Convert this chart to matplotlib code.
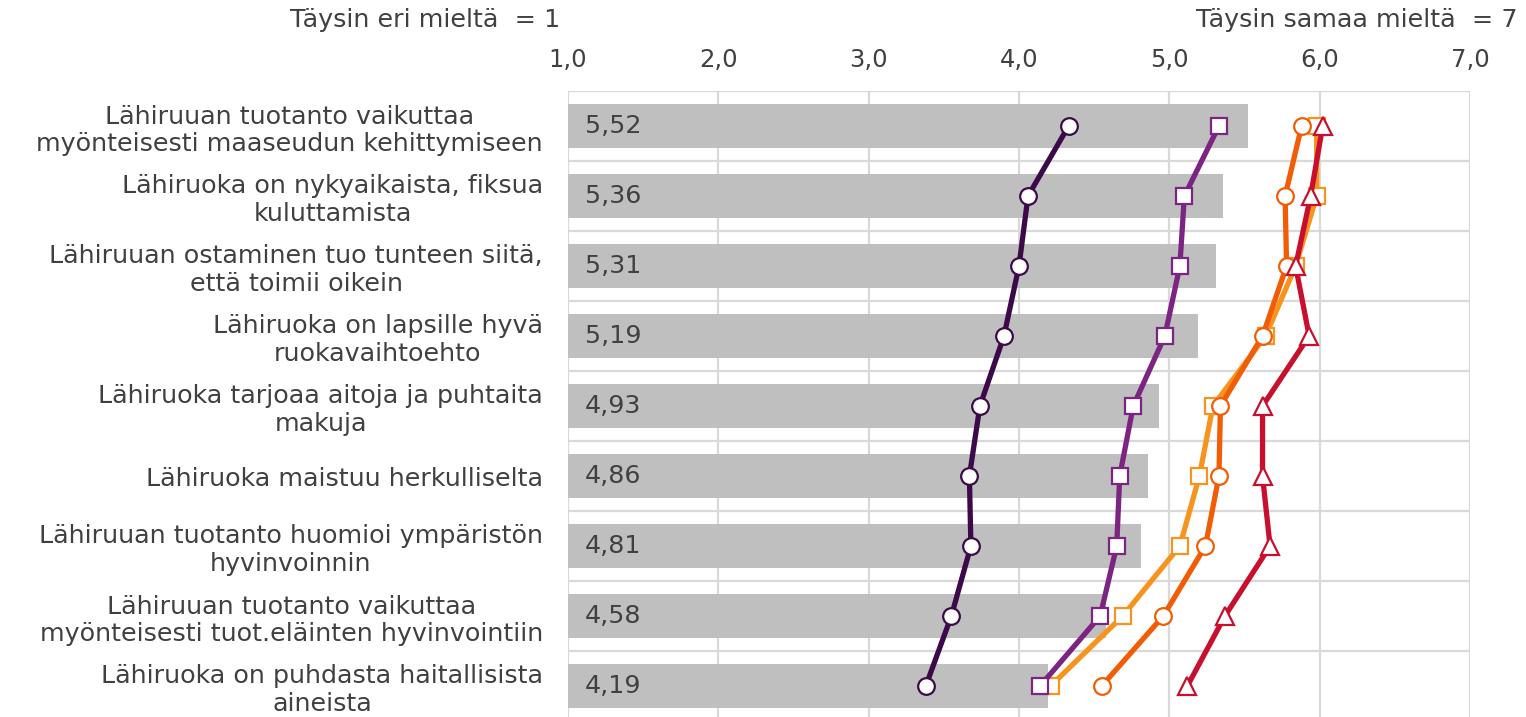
import matplotlib
matplotlib.use("Agg")
import matplotlib.pyplot as plt

# väittämät (ylhäältä alas)
VAITTAMAT = [
    "Lähiruuan tuotanto vaikuttaa\nmyönteisesti maaseudun kehittymiseen",
    "Lähiruoka on nykyaikaista, fiksua\nkuluttamista",
    "Lähiruuan ostaminen tuo tunteen siitä,\nettä toimii oikein",
    "Lähiruoka on lapsille hyvä\nruokavaihtoehto",
    "Lähiruoka tarjoaa aitoja ja puhtaita\nmakuja",
    "Lähiruoka maistuu herkulliselta",
    "Lähiruuan tuotanto huomioi ympäristön\nhyvinvoinnin",
    "Lähiruuan tuotanto vaikuttaa\nmyönteisesti tuot.eläinten hyvinvointiin",
    "Lähiruoka on puhdasta haitallisista\naineista",
]
KAIKKI = [5.52, 5.36, 5.31, 5.19, 4.93, 4.86, 4.81, 4.58, 4.19]

# ryhmäkohtaiset keskiarvot
RYHMA_1 = [4.33, 4.06, 4.00, 3.90, 3.74, 3.67, 3.68, 3.55, 3.38]
RYHMA_2 = [5.33, 5.10, 5.07, 4.97, 4.76, 4.67, 4.65, 4.54, 4.14]
RYHMA_3 = [5.98, 5.98, 5.84, 5.64, 5.29, 5.20, 5.07, 4.69, 4.21]
RYHMA_4 = [5.88, 5.77, 5.78, 5.62, 5.34, 5.33, 5.24, 4.96, 4.55]
RYHMA_5 = [6.02, 5.94, 5.84, 5.93, 5.62, 5.62, 5.67, 5.37, 5.12]

TEKSTI, HARMAA, RUUDUKKO = "#404040", "#BFBFBF", "#D9D9D9"
KOKO = 18.3

fig = plt.figure(figsize=(15.26, 7.17), dpi=100)
ax = fig.add_axes([568 / 1526, -4 / 717, 902 / 1526, 630 / 717])

y = list(range(len(VAITTAMAT)))
alku = 1.0
ax.barh(y, [v - alku for v in KAIKKI], left=alku, height=0.63, color=HARMAA, zorder=2)
for i, v in enumerate(KAIKKI):
    ax.text(1.11, i, f"{v:.2f}".replace(".", ","), va="center", ha="left",
            fontsize=KOKO, color=TEKSTI, zorder=3)

sarjat = [
    (RYHMA_3, "#F7941D", "s"),
    (RYHMA_4, "#F25C05", "o"),
    (RYHMA_5, "#C8102E", "^"),
    (RYHMA_2, "#7B2482", "s"),
    (RYHMA_1, "#3C0A49", "o"),
]
for arvot, vari, merkki in sarjat:
    ax.plot(arvot, y, color=vari, lw=3.8, marker=merkki, ms=12 if merkki != "^" else 13,
            mfc="white", mec=vari, mew=1.6, zorder=4)

ax.set_xlim(1, 7)
ax.set_ylim(len(y) - 0.5, -0.5)
ax.set_xticks(range(1, 8))
ax.set_xticklabels([f"{t},0" for t in range(1, 8)])
ax.xaxis.tick_top()
ax.tick_params(axis="x", length=0, pad=14, labelsize=17.5, labelcolor=TEKSTI)
ax.set_yticks(y)
ax.set_yticklabels(VAITTAMAT)
ax.tick_params(axis="y", length=0, pad=18, labelsize=KOKO, labelcolor=TEKSTI)
for lab in ax.get_yticklabels():
    lab.set_multialignment("center")
    lab.set_linespacing(1.2)

# ruudukko: pystyviivat kokonaisluvuissa, vaakaviivat rivien välissä
ax.set_yticks([i + 0.5 for i in range(-1, len(y))], minor=True)
ax.tick_params(axis="y", which="minor", length=0)
ax.grid(axis="x", color=RUUDUKKO, lw=1.6, zorder=0)
ax.grid(axis="y", which="minor", color=RUUDUKKO, lw=1.6, zorder=0)
for s in ax.spines.values():
    s.set_visible(False)
ax.set_axisbelow(True)

fig.text(560 / 1526, 1 - 20 / 717, "Täysin eri mieltä  = 1", ha="right", va="center",
         fontsize=KOKO, color=TEKSTI)
fig.text(1518 / 1526, 1 - 20 / 717, "Täysin samaa mieltä  = 7", ha="right", va="center",
         fontsize=KOKO, color=TEKSTI)

fig.savefig("out.png", dpi=100)
